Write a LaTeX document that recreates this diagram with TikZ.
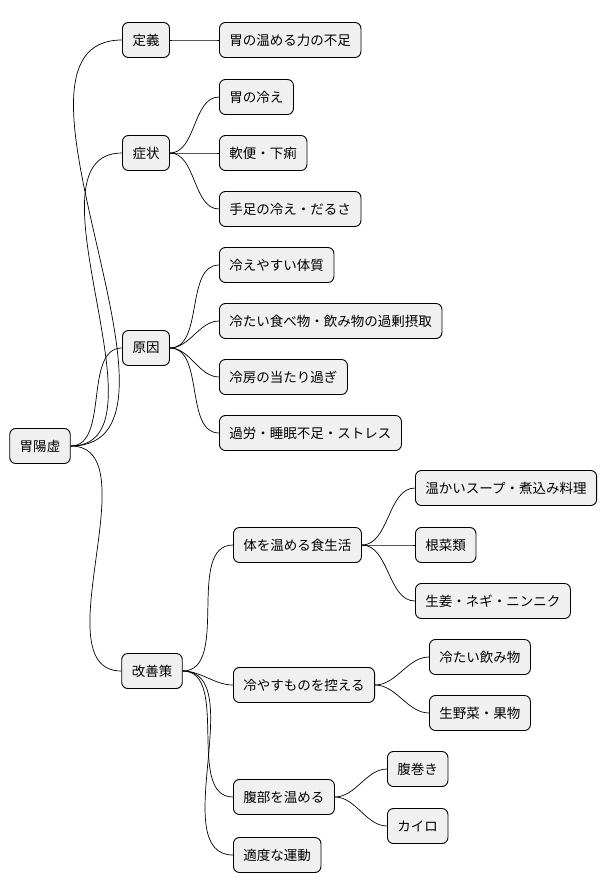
\documentclass[tikz,border=0pt]{standalone}
\usepackage{fontspec}
\setmainfont{Noto Sans CJK JP}
\usetikzlibrary{positioning}
\tikzset{
  topic/.style={draw,rounded corners=6pt,fill=black!6,line width=0.9pt,
    inner xsep=10pt,minimum height=35pt,font=\fontsize{13.5}{16}\selectfont},
  branch/.style={line width=0.7pt,out=0,in=180,looseness=0.9}
}
\begin{document}
\begin{tikzpicture}[x=1pt,y=-1pt]
\useasboundingbox (0,0) rectangle (614,893);
% root and first level
\node[topic] (root) at (40,446) {胃陽虚};
\node[topic] (def) at (146,40) {定義};
\node[topic] (sym) at (146,153) {症状};
\node[topic] (cause) at (146,348) {原因};
\node[topic] (fix) at (152,671) {改善策};
% leaves
\node[topic,anchor=west] (d1) at (219,40) {胃の温める力の不足};
\node[topic,anchor=west] (s1) at (219,97) {胃の冷え};
\node[topic,anchor=west] (s2) at (219,153) {軟便・下痢};
\node[topic,anchor=west] (s3) at (219,209) {手足の冷え・だるさ};
\node[topic,anchor=west] (c1) at (219,265) {冷えやすい体質};
\node[topic,anchor=west] (c2) at (219,321) {冷たい食べ物・飲み物の過剰摂取};
\node[topic,anchor=west] (c3) at (219,377) {冷房の当たり過ぎ};
\node[topic,anchor=west] (c4) at (219,433) {過労・睡眠不足・ストレス};
\node[topic,anchor=west] (f1) at (233,545) {体を温める食生活};
\node[topic,anchor=west] (f2) at (233,685) {冷やすものを控える};
\node[topic,anchor=west] (f3) at (233,797) {腹部を温める};
\node[topic,anchor=west] (f4) at (233,855) {適度な運動};
\node[topic,anchor=west] (g1) at (415,488) {温かいスープ・煮込み料理};
\node[topic,anchor=west] (g2) at (415,545) {根菜類};
\node[topic,anchor=west] (g3) at (415,601) {生姜・ネギ・ニンニク};
\node[topic,anchor=west] (h1) at (429,657) {冷たい飲み物};
\node[topic,anchor=west] (h2) at (429,713) {生野菜・果物};
\node[topic,anchor=west] (k1) at (387,769) {腹巻き};
\node[topic,anchor=west] (k2) at (387,826) {カイロ};
% connectors
\foreach \a/\b in {root/def,root/sym,root/cause,root/fix,def/d1,sym/s1,sym/s2,sym/s3,
  cause/c1,cause/c2,cause/c3,cause/c4,fix/f1,fix/f2,fix/f3,fix/f4,
  f1/g1,f1/g2,f1/g3,f2/h1,f2/h2,f3/k1,f3/k2}
  \draw[branch] (\a.east) to (\b.west);
\end{tikzpicture}
\end{document}
